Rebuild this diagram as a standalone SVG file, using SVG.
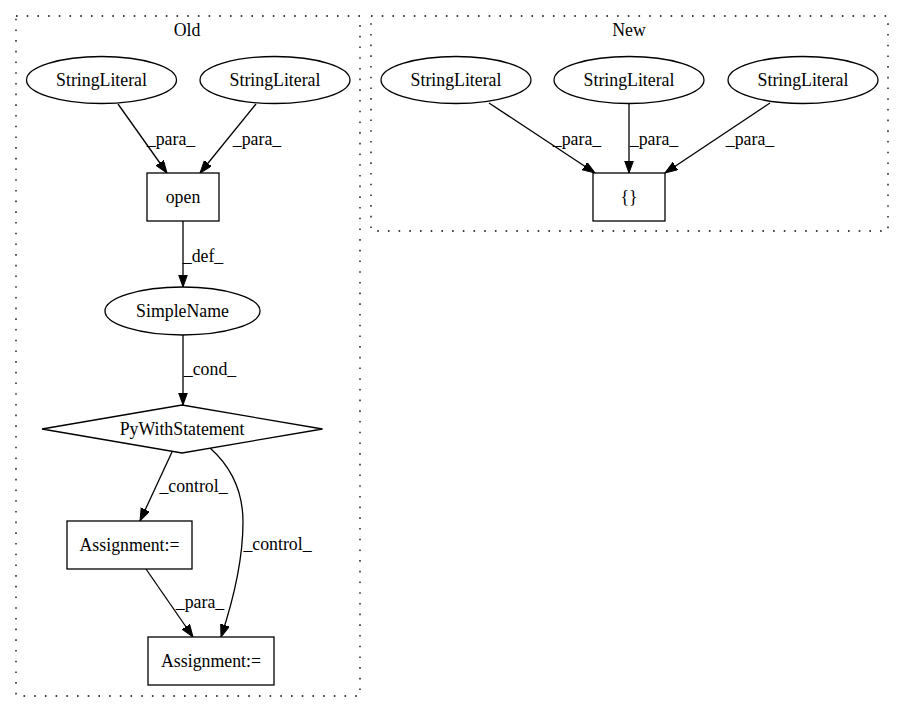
<svg xmlns="http://www.w3.org/2000/svg" width="904" height="712" viewBox="0 0 904 712">
<style>
text{font-family:"Liberation Serif","Times New Roman",serif;font-size:17.8px;fill:#000;text-anchor:middle}
.cl{fill:none;stroke:#000;stroke-width:1.3;stroke-dasharray:1.6,9.1}
.n{fill:#fff;stroke:#000;stroke-width:1.3}
.e{fill:none;stroke:#000;stroke-width:1.3;marker-end:url(#ah)}
</style>
<defs>
<marker id="ah" markerUnits="userSpaceOnUse" markerWidth="14" markerHeight="10" refX="12.5" refY="4.5" orient="auto">
<path d="M0,0 L12.5,4.5 L0,9 z" fill="#000" stroke="#000" stroke-width="1"/>
</marker>
</defs>
<rect width="904" height="712" fill="#fff"/>
<g id="cluster_old">
<rect class="cl" x="16" y="16" width="344" height="680"/>
<text x="187" y="36">Old</text>
</g>
<g id="cluster_new">
<rect class="cl" x="371" y="16" width="517" height="215"/>
<text x="629" y="36">New</text>
</g>
<g id="edges">
<path class="e" d="M118,104 L167,173"/>
<text x="171" y="145">_para_</text>
<path class="e" d="M256,104 L200,173"/>
<text x="257" y="145">_para_</text>
<path class="e" d="M183,221 L183,287"/>
<text x="203" y="262">_def_</text>
<path class="e" d="M183,335 L183,405"/>
<text x="210" y="375">_cond_</text>
<path class="e" d="M172,452 L140,521"/>
<text x="193.5" y="492">_control_</text>
<path class="e" d="M210,448 C228,464 243,488 243,522 C243,562 232,604 221,637"/>
<text x="277.5" y="550">_control_</text>
<path class="e" d="M146,569 L193,637"/>
<text x="200" y="608">_para_</text>
<path class="e" d="M489,103 L595,173"/>
<text x="577" y="145">_para_</text>
<path class="e" d="M629,104 L629,173"/>
<text x="654" y="145">_para_</text>
<path class="e" d="M770,103 L665,173"/>
<text x="750" y="145">_para_</text>
</g>
<g id="old_sl1"><ellipse class="n" cx="101.5" cy="80" rx="75" ry="23.5"/><text x="101.5" y="86">StringLiteral</text></g>
<g id="old_sl2"><ellipse class="n" cx="275" cy="80" rx="75" ry="23.5"/><text x="275" y="86">StringLiteral</text></g>
<g id="old_open"><rect class="n" x="147" y="173" width="72" height="48"/><text x="183" y="203">open</text></g>
<g id="old_simplename"><ellipse class="n" cx="182.5" cy="311" rx="77.5" ry="24"/><text x="182.5" y="317">SimpleName</text></g>
<g id="old_pywith"><polygon class="n" points="182,405 322.5,429 182,453 42,429"/><text x="182" y="435">PyWithStatement</text></g>
<g id="old_assign1"><rect class="n" x="67" y="521" width="125" height="48"/><text x="129.5" y="551">Assignment:=</text></g>
<g id="old_assign2"><rect class="n" x="148" y="637" width="126" height="48"/><text x="211" y="667">Assignment:=</text></g>
<g id="new_sl1"><ellipse class="n" cx="456" cy="80" rx="75" ry="23.5"/><text x="456" y="86">StringLiteral</text></g>
<g id="new_sl2"><ellipse class="n" cx="629" cy="80" rx="75" ry="23.5"/><text x="629" y="86">StringLiteral</text></g>
<g id="new_sl3"><ellipse class="n" cx="803" cy="80" rx="75" ry="23.5"/><text x="803" y="86">StringLiteral</text></g>
<g id="new_braces"><rect class="n" x="593" y="173" width="72" height="48"/><text x="629" y="203">{}</text></g>
</svg>
